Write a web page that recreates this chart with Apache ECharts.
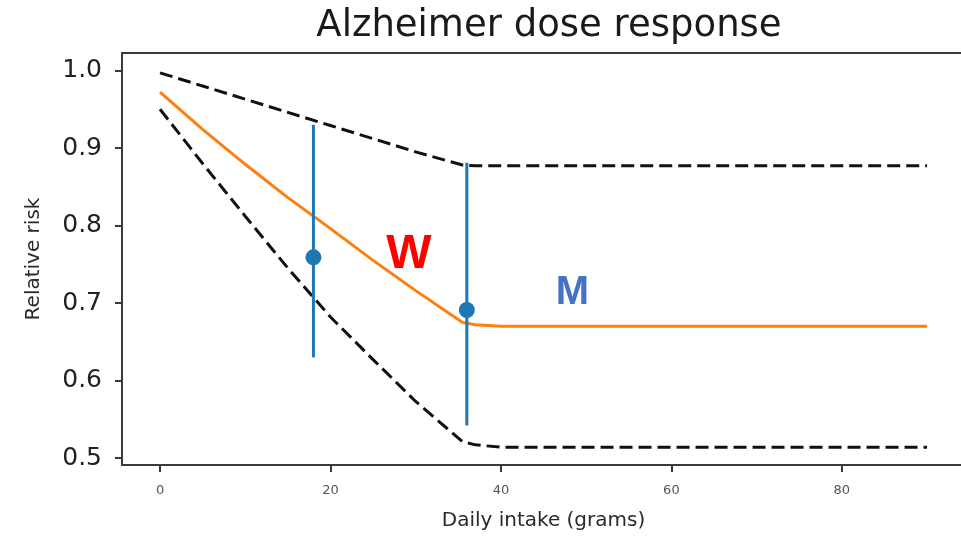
<!DOCTYPE html>
<html>
<head>
<meta charset="utf-8">
<script src="https://cdn.jsdelivr.net/npm/echarts@6/dist/echarts.min.js"></script>
<style>html,body{margin:0;padding:0;background:#fff}#c{width:961px;height:536px}</style>
</head>
<body>
<div id="c"></div>
<script>
// ---- data ----
var dose      = [0, 5, 10, 15, 20, 25, 30, 35.5, 37, 40, 90];
var meanRR    = [0.972, 0.924, 0.879, 0.836, 0.796, 0.755, 0.716, 0.675, 0.672, 0.670, 0.670];
var upperRR   = [0.997, 0.980, 0.963, 0.946, 0.929, 0.912, 0.895, 0.878, 0.877, 0.877, 0.877];
var lowerRR   = [0.950, 0.880, 0.812, 0.745, 0.682, 0.627, 0.573, 0.521, 0.517, 0.514, 0.514];
var studyX    = [18, 36];
var studyMean = [0.759, 0.691];
var studyLow  = [0.630, 0.542];
var studyHigh = [0.930, 0.881];
var xTicks    = [0, 20, 40, 60, 80];
var yTicks    = [0.5, 0.6, 0.7, 0.8, 0.9, 1.0];
var noteText  = ['W', 'M'];
var noteColor = ['#ff0000', '#4472C4'];
var noteSize  = [48, 40];
var noteX     = [29.2, 48.4];
var noteY     = [0.762, 0.713];

function pairs(xs, ys){ return xs.map(function(x,i){ return [x, ys[i]]; }); }

var chart = echarts.init(document.getElementById('c'), null, {renderer:'canvas'});
var axisCol = '#3a3a3a';
var xMin = -4.46, xMax = 93.98;
chart.setOption({
  animation: false,
  backgroundColor: '#fff',
  title: {
    text: 'Alzheimer dose response', left: 544, textAlign: 'center', top: 3,
    textStyle: {fontFamily: 'DejaVu Sans', fontSize: 37, fontWeight: 'normal', color: '#1a1a1a'}
  },
  grid: {left: 122, right: 0, top: 53, bottom: 70, show: false},
  xAxis: [{
    type: 'value', min: xMin, max: xMax,
    name: 'Daily intake (grams)', nameLocation: 'middle', nameGap: 46,
    nameTextStyle: {fontFamily: 'DejaVu Sans', fontSize: 20, color: '#2a2a2a', padding: [0, 0, 0, 4]},
    axisLine: {onZero: false, lineStyle: {color: axisCol, width: 2}},
    axisTick: {show: true, length: 7, lineStyle: {color: axisCol, width: 2}, customValues: xTicks},
    axisLabel: {fontFamily: 'DejaVu Sans', fontSize: 13, color: '#555', margin: 19, customValues: xTicks},
    splitLine: {show: false}
  }, {
    type: 'value', min: xMin, max: xMax, position: 'top',
    axisLine: {show: true, onZero: false, lineStyle: {color: axisCol, width: 2}},
    axisTick: {show: false}, axisLabel: {show: false}, splitLine: {show: false}
  }],
  yAxis: {
    type: 'value', min: 0.491, max: 1.0226,
    name: 'Relative risk', nameLocation: 'middle', nameGap: 78, nameRotate: 90,
    nameTextStyle: {fontFamily: 'DejaVu Sans', fontSize: 20, color: '#2a2a2a'},
    axisLine: {show: true, onZero: false, lineStyle: {color: axisCol, width: 2}},
    axisTick: {show: true, length: 7, lineStyle: {color: axisCol, width: 2}, customValues: yTicks},
    axisLabel: {fontFamily: 'DejaVu Sans', fontSize: 25, color: '#222', margin: 20, customValues: yTicks,
      formatter: function(v){ return v.toFixed(1); }},
    splitLine: {show: false}
  },
  series: [
    {type: 'line', data: pairs(dose, upperRR), showSymbol: false, symbol: 'none',
     lineStyle: {color: '#111', width: 3, type: [13, 6]}, z: 2},
    {type: 'line', data: pairs(dose, lowerRR), showSymbol: false, symbol: 'none',
     lineStyle: {color: '#111', width: 3, type: [13, 6]}, z: 2},
    {type: 'line', data: pairs(dose, meanRR), showSymbol: false, symbol: 'none',
     lineStyle: {color: '#ff7f0e', width: 3}, z: 3},
    {type: 'custom', z: 4,
     data: studyX.map(function(x,i){ return [x, studyLow[i], studyHigh[i]]; }),
     encode: {x: 0, y: [1, 2]},
     renderItem: function(params, api){
       var a = api.coord([api.value(0), api.value(1)]);
       var b = api.coord([api.value(0), api.value(2)]);
       return {type: 'line', shape: {x1: a[0], y1: a[1], x2: b[0], y2: b[1]},
               style: {stroke: '#1f77b4', lineWidth: 3}};
     }},
    {type: 'scatter', data: pairs(studyX, studyMean), symbolSize: 16,
     itemStyle: {color: '#1f77b4', opacity: 1}, z: 5},
    {type: 'scatter', symbolSize: 0, z: 6, silent: true,
     itemStyle: {opacity: 1},
     data: noteText.map(function(t,i){
       return {value: [noteX[i], noteY[i]], name: t,
               label: {color: noteColor[i], fontSize: noteSize[i]}};
     }),
     label: {show: true, position: 'inside', formatter: '{b}', fontFamily: 'Liberation Sans', fontWeight: 'bold'}}
  ]
});
</script>
</body>
</html>
